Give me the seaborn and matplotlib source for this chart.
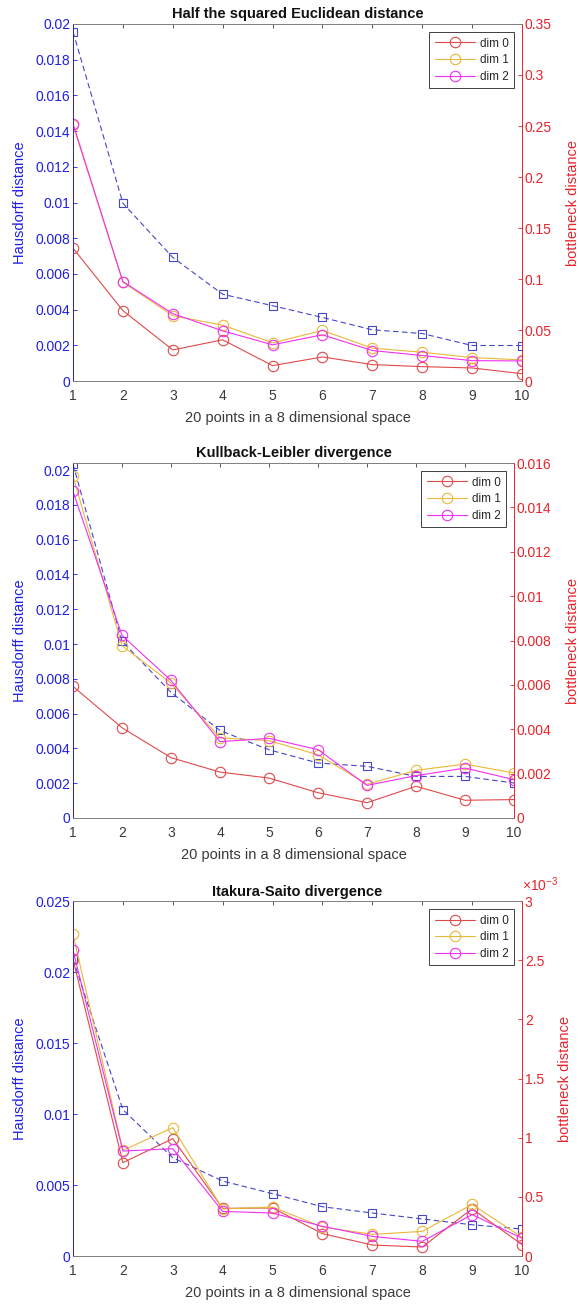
import numpy as np
import pandas as pd
import matplotlib
matplotlib.use('Agg')
import matplotlib.pyplot as plt
from matplotlib.ticker import FuncFormatter
import seaborn as sns

# ============================================
# DATA
# ============================================

x_pts = [1, 2, 3, 4, 5, 6, 7, 8, 9, 10]
dims = ['dim 0', 'dim 1', 'dim 2']

# Half the squared Euclidean distance
haus_euc = [0.01957, 0.00996, 0.00692, 0.00486, 0.00422, 0.00356, 0.00287, 0.00266, 0.00199, 0.00199]
d0_euc = [0.1303, 0.0690, 0.0305, 0.0404, 0.0151, 0.0236, 0.0161, 0.0141, 0.0128, 0.0072]
d1_euc = [0.2510, 0.0969, 0.0640, 0.0548, 0.0374, 0.0496, 0.0322, 0.0282, 0.0230, 0.0207]
d2_euc = [0.2522, 0.0975, 0.0660, 0.0492, 0.0355, 0.0453, 0.0299, 0.0250, 0.0200, 0.0197]

# Kullback-Leibler divergence
haus_kl = [0.02034, 0.01016, 0.00722, 0.00503, 0.00392, 0.00316, 0.00297, 0.00239, 0.00239, 0.00201]
d0_kl = [0.00593, 0.00407, 0.00272, 0.00207, 0.00180, 0.00114, 0.00069, 0.00143, 0.00080, 0.00083]
d1_kl = [0.01540, 0.00777, 0.00608, 0.00361, 0.00349, 0.00285, 0.00152, 0.00215, 0.00243, 0.00203]
d2_kl = [0.01472, 0.00823, 0.00620, 0.00344, 0.00359, 0.00308, 0.00147, 0.00191, 0.00225, 0.00173]

# Itakura-Saito divergence
haus_is = [0.02089, 0.01031, 0.00692, 0.00528, 0.00439, 0.00347, 0.00303, 0.00261, 0.00220, 0.00190]
d0_is = [2.507e-3, 0.789e-3, 0.992e-3, 0.403e-3, 0.406e-3, 0.189e-3, 0.093e-3, 0.076e-3, 0.400e-3, 0.096e-3]
d1_is = [2.718e-3, 0.893e-3, 1.085e-3, 0.397e-3, 0.414e-3, 0.245e-3, 0.183e-3, 0.208e-3, 0.436e-3, 0.158e-3]
d2_is = [2.583e-3, 0.887e-3, 0.907e-3, 0.377e-3, 0.363e-3, 0.251e-3, 0.166e-3, 0.124e-3, 0.350e-3, 0.150e-3]

titles = ['Half the squared Euclidean distance',
          'Kullback-Leibler divergence',
          'Itakura-Saito divergence']

# ============================================
# STYLE
# ============================================

sns.set_style('white')
plt.rcParams['font.family'] = ['Liberation Sans', 'DejaVu Sans']
plt.rcParams['font.size'] = 10
plt.rcParams['mathtext.fontset'] = 'custom'
plt.rcParams['mathtext.rm'] = 'Liberation Sans'

BLUE = '#1f1fe6'
BLUE_LINE = '#4646c8'
RED = '#e8242c'
GRAY = '#3a3a3a'
dim_colors = ['#e04a4a', '#e8b838', '#f030f0']

TICK_FS = 10
LABEL_FS = 10.5

fig = plt.figure(figsize=(5.79, 13.04), dpi=100)

# axes boxes in figure fractions [left, bottom, width, height]
boxes = [[0.1261, 0.7078, 0.7755, 0.2738],
         [0.1261, 0.3727, 0.7617, 0.2722],
         [0.1261, 0.0368, 0.7755, 0.2722]]


def fmt_g(v, pos):
    return f'{v:g}'


def draw_panel(box, title, haus, series, ylim_l, yticks_l, ylim_r, yticks_r, scale_r=None):
    ax = fig.add_axes(box)
    ax2 = ax.twinx()

    df = pd.DataFrame({'x': x_pts, 'haus': haus})
    sns.lineplot(data=df, x='x', y='haus', ax=ax, color=BLUE_LINE,
                 linestyle=(0, (5, 3)), linewidth=0.8, marker='s',
                 markersize=5.5, markerfacecolor='none',
                 markeredgecolor=BLUE_LINE, markeredgewidth=0.8)

    for name, vals, c in zip(dims, series, dim_colors):
        d = pd.DataFrame({'x': x_pts, 'v': vals})
        sns.lineplot(data=d, x='x', y='v', ax=ax2, color=c, linewidth=0.8,
                     marker='o', markersize=7.5, markerfacecolor='none',
                     markeredgecolor=c, markeredgewidth=0.8, label=name)

    ax.set_xlim(1, 10)
    ax.set_xticks(x_pts)
    ax.set_ylim(*ylim_l)
    ax.set_yticks(yticks_l)
    ax.yaxis.set_major_formatter(FuncFormatter(fmt_g))
    ax2.set_ylim(*ylim_r)
    ax2.set_yticks(yticks_r)
    if scale_r is None:
        ax2.yaxis.set_major_formatter(FuncFormatter(fmt_g))
    else:
        ax2.yaxis.set_major_formatter(FuncFormatter(lambda v, p: f'{v / scale_r:g}'))
        ax2.text(1.0, 1.02, r'$\times10^{-3}$', transform=ax2.transAxes,
                 ha='left', va='bottom', color=RED, fontsize=10)

    ax.set_title(title, fontsize=LABEL_FS, fontweight='bold', color='#111111', pad=4)
    ax.set_xlabel('20 points in a 8 dimensional space', fontsize=LABEL_FS, color=GRAY, labelpad=6)
    ax.set_ylabel('Hausdorff distance', fontsize=LABEL_FS, color=BLUE, labelpad=6)
    ax2.set_ylabel('bottleneck distance', fontsize=LABEL_FS, color=RED, labelpad=10)

    ax.tick_params(axis='x', direction='in', length=3, width=0.6,
                   top=True, colors=GRAY, labelsize=TICK_FS, pad=5.5)
    ax.tick_params(axis='y', direction='in', length=3, width=0.6,
                   colors=BLUE, labelsize=TICK_FS, pad=2)
    ax2.tick_params(axis='y', direction='in', length=3, width=0.6,
                    colors=RED, labelsize=TICK_FS, pad=2)

    for a in (ax, ax2):
        for s in a.spines.values():
            s.set_linewidth(0.6)
            s.set_color('#808080')
        a.spines['left'].set_color(BLUE)
        a.spines['right'].set_color(RED)
        a.grid(False)

    leg = ax2.legend(loc='upper right', fontsize=8.5, handlelength=3.4,
                     fancybox=False, framealpha=1, edgecolor='#404040',
                     borderaxespad=0.7, labelspacing=0.4, handletextpad=0.4,
                     borderpad=0.45)
    leg.get_frame().set_linewidth(0.7)
    return ax, ax2


draw_panel(boxes[0], titles[0], haus_euc, [d0_euc, d1_euc, d2_euc],
           (0, 0.02), np.arange(0, 0.0201, 0.002),
           (0, 0.35), np.arange(0, 0.351, 0.05))

draw_panel(boxes[1], titles[1], haus_kl, [d0_kl, d1_kl, d2_kl],
           (0, 0.0204), np.arange(0, 0.0201, 0.002),
           (0, 0.016), np.arange(0, 0.0161, 0.002))

draw_panel(boxes[2], titles[2], haus_is, [d0_is, d1_is, d2_is],
           (0, 0.025), np.arange(0, 0.0251, 0.005),
           (0, 0.003), np.arange(0, 0.00301, 0.0005), scale_r=1e-3)

plt.savefig('out.png', dpi=100)
print("saved out.png")
